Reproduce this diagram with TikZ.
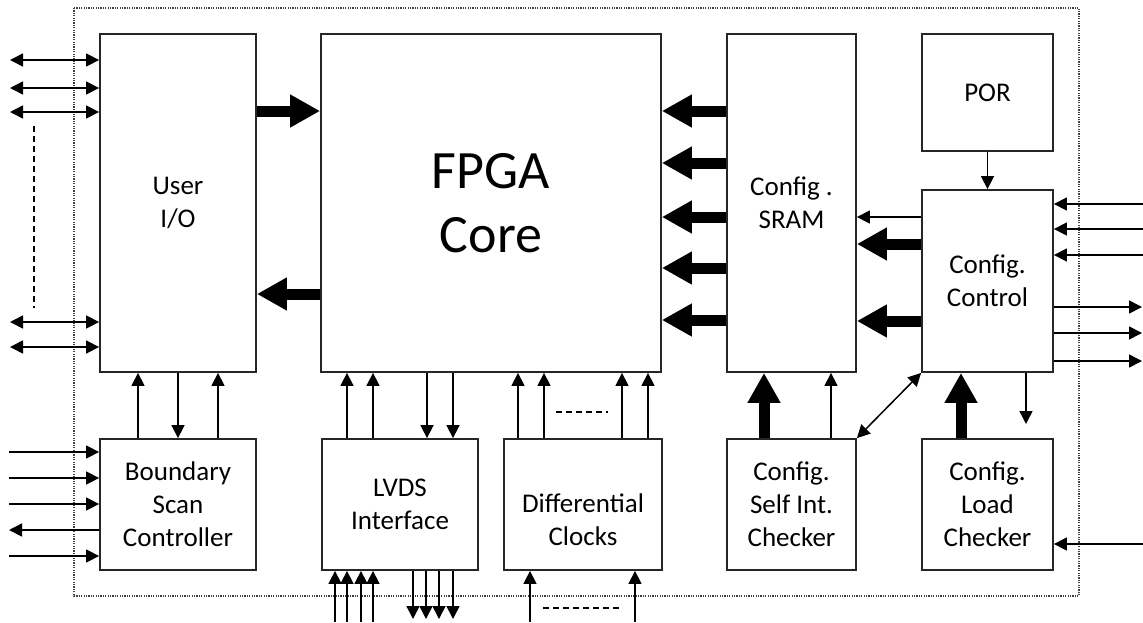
\documentclass[tikz,border=0pt]{standalone}
\usepackage{fontspec}
\setmainfont{Carlito}
\usetikzlibrary{arrows.meta,calc}
\begin{document}
\begin{tikzpicture}[x=1pt,y=-1pt,
  box/.style={draw=black!85, line width=1.8pt, inner sep=0pt, align=center, font=\fontsize{27}{33}\selectfont},
  txt/.style={inner sep=0pt, align=center, font=\fontsize{27}{33}\selectfont},
  ar/.style={line width=1.5pt, -{Triangle[length=13pt,width=13pt]}},
  dar/.style={line width=1.5pt, {Triangle[length=13pt,width=13pt]}-{Triangle[length=13pt,width=13pt]}},
  fat/.style={line width=11pt, -{Triangle[length=30pt,width=31pt]}},
  dsh/.style={line width=1.5pt, dash pattern=on 6pt off 4pt},
  frame/.style={draw=black!75, line width=1.2pt, dash pattern=on 1.2pt off 1.2pt}
]
\useasboundingbox (0,0) rectangle (1143,622);
% outer dotted frame
\draw[frame] (74,8) rectangle (1079,596);

% boxes
\node[box, minimum width=156pt, minimum height=338pt] (uio) at (178,203) {User\\I/O};
\node[box, minimum width=340pt, minimum height=338pt, font=\fontsize{54}{64}\selectfont] (core) at (491,203) {FPGA\\Core};
\node[box, minimum width=129pt, minimum height=338pt] (sram) at (791.5,203) {Config .\\SRAM};
\node[box, minimum width=131pt, minimum height=117pt] (por) at (987.5,92.5) {POR};
\node[box, minimum width=131pt, minimum height=182pt] (ctrl) at (987.5,281) {Config.\\Control};
\node[box, minimum width=156pt, minimum height=131pt] (bsc) at (178,504.5) {Boundary\\Scan\\Controller};
\node[box, minimum width=156pt, minimum height=131pt] (lvds) at (400,504.5) {LVDS\\Interface};
\node[box, minimum width=158pt, minimum height=131pt] (diff) at (583,504.5) {};
\node[txt] (difft) at (583,520) {Differential\\Clocks};
\node[box, minimum width=129pt, minimum height=131pt] (self) at (791.5,504.5) {Config.\\Self Int.\\Checker};
\node[box, minimum width=131pt, minimum height=131pt] (load) at (987.5,504.5) {Config.\\Load\\Checker};

% left user I/O arrows
\foreach \y in {60,88,112,322,347}
  \draw[dar] (10,\y) -- (uio.west |- 0,\y);
\draw[dsh] (34,126) -- (34,308);

% boundary scan left arrows
\foreach \y in {452,478,504,556}
  \draw[ar] (9,\y) -- (bsc.west |- 0,\y);
\draw[ar] (bsc.west |- 0,530) -- (9,530);

% user I/O <-> boundary scan
\foreach \x in {138,218}
  \draw[ar] (bsc.north -| \x,0) -- (uio.south -| \x,0);
\draw[ar] (uio.south -| 178,0) -- (bsc.north -| 178,0);

% thick arrows user I/O <-> core
\draw[fat] (uio.east |- 0,111) -- (core.west |- 0,111);
\draw[fat] (core.west |- 0,294) -- (uio.east |- 0,294);

% LVDS <-> core
\foreach \x in {347,373}
  \draw[ar] (lvds.north -| \x,0) -- (core.south -| \x,0);
\foreach \x in {427,453}
  \draw[ar] (core.south -| \x,0) -- (lvds.north -| \x,0);
% diff clocks -> core
\foreach \x in {518,544,622,648}
  \draw[ar] (diff.north -| \x,0) -- (core.south -| \x,0);
\draw[dsh] (556,412) -- (608,412);

% LVDS bottom
\foreach \x in {335,347,361,373}
  \draw[ar] (\x,622) -- (lvds.south -| \x,0);
\foreach \x in {413,426,439,453}
  \draw[ar] (lvds.south -| \x,0) -- (\x,619);
% diff bottom
\foreach \x in {530,635}
  \draw[ar] (\x,622) -- (diff.south -| \x,0);
\draw[dsh] (543,608) -- (622,608);

% SRAM -> core
\foreach \y in {111,163,217,268,320}
  \draw[fat] (sram.west |- 0,\y) -- (core.east |- 0,\y);

% control -> SRAM
\draw[ar] (ctrl.west |- 0,217) -- (sram.east |- 0,217);
\draw[fat] (ctrl.west |- 0,244) -- (sram.east |- 0,244);
\draw[fat] (ctrl.west |- 0,321) -- (sram.east |- 0,321);

% POR -> control
\draw[ar] (por.south) -- (ctrl.north);

% right side of control
\foreach \y in {204,229,255}
  \draw[ar] (1143,\y) -- (ctrl.east |- 0,\y);
\foreach \y in {307,333,361}
  \draw[ar] (ctrl.east |- 0,\y) -- (1142,\y);

% checkers
\draw[fat] (self.north -| 764,0) -- (sram.south -| 764,0);
\draw[ar] (self.north -| 831,0) -- (sram.south -| 831,0);
\draw[dar] (self.north east) -- (ctrl.south west);
\draw[fat] (load.north -| 961,0) -- (ctrl.south -| 961,0);
\coordinate (dn) at (1026,424);
\draw[ar] (ctrl.south -| dn) -- (dn);
\draw[ar] (1143,544) -- (load.east |- 0,544);
\end{tikzpicture}
\end{document}
